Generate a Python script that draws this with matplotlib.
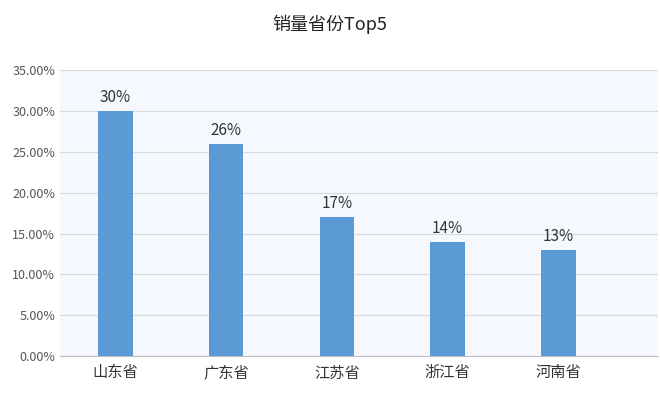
import matplotlib
matplotlib.use("Agg")
import matplotlib.pyplot as plt
from matplotlib.ticker import FuncFormatter

plt.rcParams["font.family"] = ["Noto Sans CJK SC", "DejaVu Sans"]

provinces = ["山东省", "广东省", "江苏省", "浙江省", "河南省"]
shares = [30, 26, 17, 14, 13]
labels = ["30%", "26%", "17%", "14%", "13%"]

fig = plt.figure(figsize=(6.6, 4.01), dpi=100)
ax = fig.add_axes([0.091, 0.112, 0.906, 0.713])
ax.set_facecolor("#F5F8FE")
ax.bar(range(len(shares)), shares, width=0.31, color="#5B9BD5", zorder=3)
for i, (v, t) in enumerate(zip(shares, labels)):
    ax.text(i, v + 0.6, t, ha="center", va="bottom", fontsize=11, color="#333333")
ax.set_ylim(0, 35)
ax.set_xlim(-0.5, 4.9)
ax.set_yticks(range(0, 36, 5))
ax.yaxis.set_major_formatter(FuncFormatter(lambda y, _: f"{y:.2f}%"))
ax.set_xticks(range(len(provinces)))
ax.set_xticklabels(provinces, fontsize=11, color="#333333")
ax.tick_params(axis="y", labelsize=9, colors="#555555", length=0)
ax.tick_params(axis="x", length=0, pad=6)
ax.grid(axis="y", color="#D9D9D9", lw=0.8, zorder=0)
for s in ["top", "right", "left"]:
    ax.spines[s].set_visible(False)
ax.spines["bottom"].set_color("#BFBFBF")
fig.text(0.5, 0.94, "销量省份Top5", ha="center", va="center", fontsize=13, color="#222222")
fig.savefig("out.png", dpi=100, facecolor="white")
